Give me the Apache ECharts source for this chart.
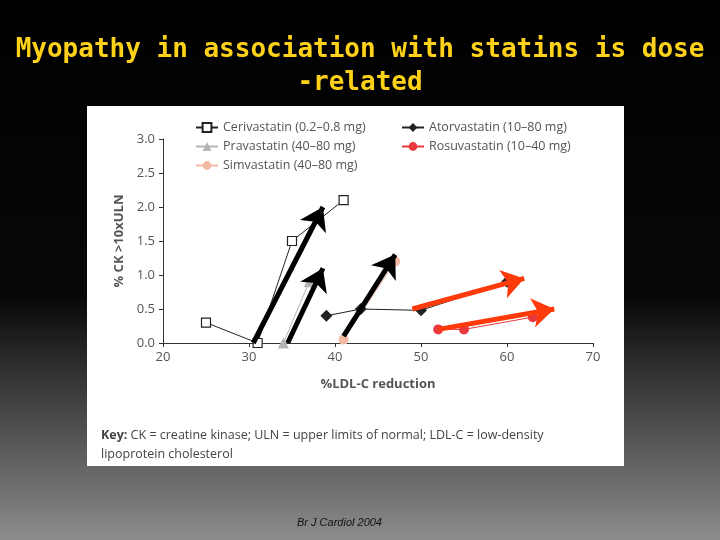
<!DOCTYPE html><html><head><meta charset="utf-8">
<script src="https://cdn.jsdelivr.net/npm/echarts@6/dist/echarts.min.js"></script>
<style>html,body{margin:0;padding:0}#c{width:720px;height:540px}</style></head><body><div id="c"></div><script>
const xTicks=[20,30,40,50,60,70];
const ceriva=[[25,0.3],[31,0],[35,1.5],[41,2.1]];
const prava=[[34,0],[37,0.9]];
const simva=[[41,0.05],[47,1.2]];
const atorva=[[39,0.4],[43,0.5],[50,0.48],[60,0.9]];
const rosuva=[[52,0.2],[55,0.2],[63,0.38]];
const blackArrows=[[[30.5,0],[38.6,2.0]],[[34.5,0],[38.6,1.1]],[[41,0.1],[47,1.3]]];
const redArrows=[[[49,0.5],[62,0.95]],[[52,0.2],[65.5,0.5]]];
const chart=echarts.init(document.getElementById('c'));
const F='Open Sans';
function arrows(list,color){return{type:'lines',coordinateSystem:'cartesian2d',z:10,polyline:false,
 symbol:['none','arrow'],symbolSize:22,lineStyle:{color:color,width:5,opacity:1},
 data:list.map(a=>({coords:a}))};}
chart.setOption({
 backgroundColor:{type:'linear',x:0,y:0,x2:0,y2:1,colorStops:[{offset:0,color:'#000'},{offset:0.55,color:'#080808'},{offset:1,color:'#8c8c8c'}]},
 graphic:[
  {type:'rect',shape:{x:87,y:106,width:537,height:360},style:{fill:'#fff'},z:-1},
  {type:'text',x:360,y:34,style:{text:'Myopathy in association with statins is dose\n-related',fill:'#ffd21a',font:'bold 26px "DejaVu Sans Mono"',align:'center',textAlign:'center',lineHeight:33}},
  {type:'text',left:101,top:426,style:{text:'{b|Key:} CK = creatine kinase; ULN = upper limits of normal; LDL-C = low-density\nlipoprotein cholesterol',fill:'#444',font:'12.5px "Open Sans"',lineHeight:19,rich:{b:{fontWeight:'bold',fontSize:12.5,fontFamily:'Open Sans',fill:'#444'}}}},
  {type:'text',left:297,top:517,style:{text:'Br J Cardiol 2004',fill:'#111',font:'italic 11px "Liberation Sans"'}}
 ],
 legend:[
  {orient:'vertical',left:190,top:116,itemGap:6,itemWidth:22,itemHeight:11,textStyle:{fontFamily:F,fontSize:12.5,color:'#555'},data:['Cerivastatin (0.2–0.8 mg)','Pravastatin (40–80 mg)','Simvastatin (40–80 mg)']},
  {orient:'vertical',left:396,top:116,itemGap:6,itemWidth:22,itemHeight:11,textStyle:{fontFamily:F,fontSize:12.5,color:'#555'},data:['Atorvastatin (10–80 mg)','Rosuvastatin (10–40 mg)']}
 ],
 grid:{left:163,right:127,top:139,bottom:197},
 xAxis:{type:'value',min:20,max:70,interval:10,name:'%LDL-C reduction',nameLocation:'middle',nameGap:35,
  nameTextStyle:{fontFamily:F,fontWeight:'bold',fontSize:13,color:'#555'},
  axisLine:{lineStyle:{color:'#333'}},axisTick:{inside:false,length:4},splitLine:{show:false},
  axisLabel:{fontFamily:F,fontSize:13,color:'#555'}},
 yAxis:{type:'value',min:0,max:3,interval:0.5,name:'% CK >10xULN',nameLocation:'middle',nameGap:35,
  nameTextStyle:{fontFamily:F,fontWeight:'bold',fontSize:13,color:'#555'},
  axisLine:{show:true,lineStyle:{color:'#333'}},axisTick:{show:true,length:4},splitLine:{show:false},
  axisLabel:{fontFamily:F,fontSize:13,color:'#555',formatter:v=>v.toFixed(1)}},
 series:[
  {name:'Cerivastatin (0.2–0.8 mg)',type:'line',data:ceriva,symbol:'rect',symbolSize:9,itemStyle:{color:'#fff',borderColor:'#222',borderWidth:1.2},lineStyle:{color:'#222',width:1}},
  {name:'Pravastatin (40–80 mg)',type:'line',data:prava,symbol:'triangle',symbolSize:11,itemStyle:{color:'#b5b5b5'},lineStyle:{color:'#b5b5b5',width:1}},
  {name:'Simvastatin (40–80 mg)',type:'line',data:simva,symbol:'circle',symbolSize:10,itemStyle:{color:'#f4b9a3'},lineStyle:{color:'#f4b9a3',width:1}},
  {name:'Atorvastatin (10–80 mg)',type:'line',data:atorva,symbol:'diamond',symbolSize:12,itemStyle:{color:'#222'},lineStyle:{color:'#222',width:1}},
  {name:'Rosuvastatin (10–40 mg)',type:'line',data:rosuva,symbol:'circle',symbolSize:10,itemStyle:{color:'#e8393e'},lineStyle:{color:'#e8393e',width:1}},
  arrows(blackArrows,'#000'),
  arrows(redArrows,'#ff3a0a')
 ]
});
</script></body></html>
